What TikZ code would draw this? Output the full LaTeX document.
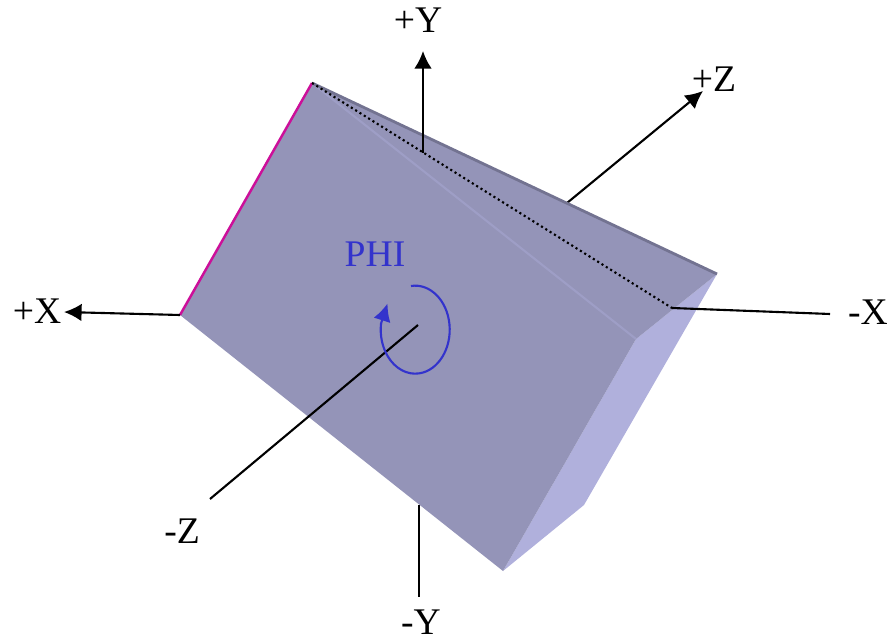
\documentclass[tikz,border=0pt]{standalone}
\usepackage{fontspec}
\setmainfont{Liberation Serif}
\usetikzlibrary{arrows.meta}
\definecolor{facemain}{HTML}{9494B8}
\definecolor{faceside}{HTML}{B0B0DC}
\definecolor{edgetop}{HTML}{737391}
\definecolor{edgefold}{HTML}{9E9EC6}
\definecolor{edgepink}{HTML}{CC0F99}
\definecolor{phiblue}{HTML}{3333CC}
\tikzset{
  axis/.style={line width=0.6pt},
  axisarrow/.style={axis,-{Latex[length=5pt,width=5pt]}},
  axislabel/.style={font=\fontsize{10.7}{12}\selectfont,inner sep=0pt},
  philabel/.style={axislabel,text=phiblue},
}
\begin{document}
\begin{tikzpicture}
\useasboundingbox (0,0) rectangle (8.9,6.38);
\coordinate (top) at (3.12,5.55);
\coordinate (left) at (1.80,3.23);
\coordinate (bottom) at (5.03,0.67);
\coordinate (inner) at (6.36,2.99);
\coordinate (right) at (7.17,3.64);
\coordinate (low) at (5.84,1.33);

\coordinate (ytip) at (4.23,5.87);
\coordinate (yfoot) at (4.23,4.85);
\coordinate (ztip) at (7.03,5.47);
\coordinate (zfoot) at (5.67,4.35);
\coordinate (xtip) at (0.64,3.26);
\coordinate (mxfoot) at (6.72,3.30);
\coordinate (mxend) at (8.30,3.24);
\coordinate (mzfoot) at (4.18,3.13);
\coordinate (mzend) at (2.10,1.39);
\coordinate (myfoot) at (4.19,1.33);
\coordinate (myend) at (4.19,0.41);

\draw[axisarrow] (zfoot) -- (ztip);
\draw[axis] (myfoot) -- (myend);

\fill[faceside] (bottom) -- (inner) -- (right) -- (low) -- cycle;
\fill[facemain] (top) -- (left) -- (bottom) -- (inner) -- (right) -- cycle;
\draw[edgefold,line width=0.6pt] (top) -- (inner);
\draw[edgetop,line width=0.8pt] (top) -- (right);
\draw[edgepink,line width=0.7pt] (top) -- (left);

\draw[line width=0.6pt,dash pattern=on 0.6pt off 0.85pt] (top) -- (mxfoot);
\draw[axisarrow] (yfoot) -- (ytip);
\draw[axisarrow] (left) -- (xtip);
\draw[axis] (mxfoot) -- (mxend);
\draw[axis] (mzfoot) -- (mzend);

\coordinate (phistart) at (4.11,3.52);
\coordinate (phitip) at (3.875,3.345);
\draw[phiblue,line width=0.6pt,-{Latex[length=5pt,width=5pt]}] (phistart) arc[start angle=97,end angle=-188,x radius=0.345,y radius=0.44] -- (phitip);

\node[axislabel] (plusy) at (4.18,6.18) {+Y};
\node[axislabel] (minusy) at (4.21,0.16) {-Y};
\node[axislabel] (plusz) at (7.14,5.59) {+Z};
\node[axislabel] (minusz) at (1.82,1.07) {-Z};
\node[axislabel] (plusx) at (0.37,3.27) {+X};
\node[axislabel] (minusx) at (8.68,3.26) {-X};
\node[philabel] (phi) at (3.75,3.84) {PHI};
\end{tikzpicture}
\end{document}
